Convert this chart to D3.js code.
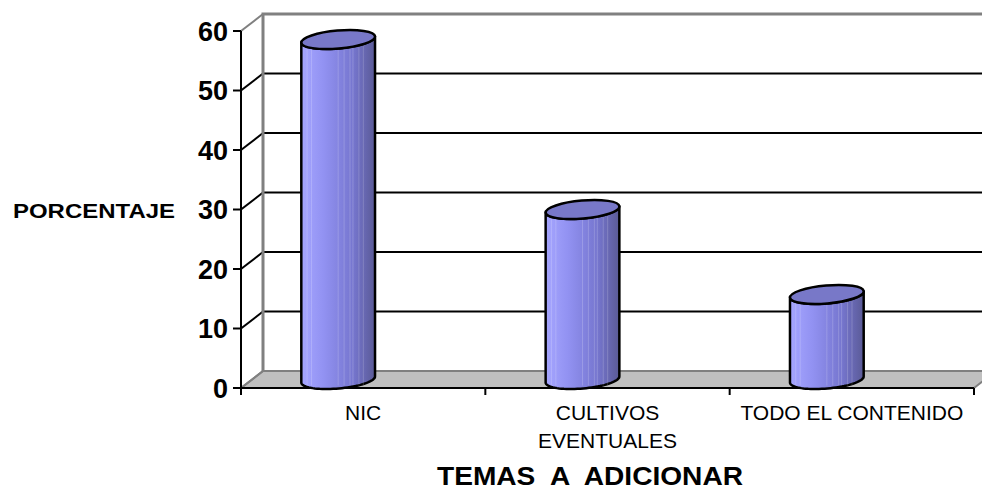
<!DOCTYPE html>
<html>
<head>
<meta charset="utf-8">
<script src="https://cdn.jsdelivr.net/npm/d3@7"></script>
<style>
  body { margin: 0; background: #fff; }
  svg { display: block; font-family: "Liberation Sans", Arial, sans-serif; }
</style>
</head>
<body>
<svg id="chart" width="982" height="491"></svg>
<script>
// data
var categories = ["NIC", "CULTIVOS EVENTUALES", "TODO EL CONTENIDO"];
var categoryLines = [["NIC"], ["CULTIVOS", "EVENTUALES"], ["TODO EL CONTENIDO"]];
var values = [57.14, 28.57, 14.29];
var yTicks = [0, 10, 20, 30, 40, 50, 60];
var yTitle = "PORCENTAJE";
var xTitle = "TEMAS  A  ADICIONAR";

var svg = d3.select("svg#chart");

// plot geometry (front plane) + depth offset for the back wall
var plotL = 241, plotR = 974, plotB = 388, plotT = 31;
var dx = 22, dy = -17;

var x = d3.scaleBand().domain(categories).range([plotL, plotR]);
var y = d3.scaleLinear().domain([0, 60]).range([plotB, plotT]);

var defs = svg.append("defs");
var grad = defs.append("linearGradient").attr("id", "cyl")
   .attr("x1", 0).attr("x2", 1).attr("y1", 0).attr("y2", 0);
[[0, "#a6a6ff"], [0.3, "#9292f2"], [0.7, "#7676cf"], [1, "#5a5a96"]].forEach(function (s) {
   grad.append("stop").attr("offset", s[0]).attr("stop-color", s[1]);
});

var g = svg.append("g");

// floor
g.append("path")
   .attr("d", "M" + plotL + "," + plotB + "L" + (plotL + dx) + "," + (plotB + dy) +
      "L" + (plotR + dx) + "," + (plotB + dy) + "L" + plotR + "," + plotB + "Z")
   .attr("fill", "#c0c0c0").attr("stroke", "#808080").attr("stroke-width", 2);

// back wall gridlines
g.selectAll(".grid").data(yTicks.filter(function (d) { return d > 0 && d < 60; }))
   .enter().append("line")
   .attr("x1", plotL + dx).attr("x2", plotR + dx + 20)
   .attr("y1", function (d) { return y(d) + dy; })
   .attr("y2", function (d) { return y(d) + dy; })
   .attr("stroke", "#000").attr("stroke-width", 2);

// side wall lines
g.selectAll(".side").data(yTicks).enter().append("line")
   .attr("x1", plotL).attr("x2", plotL + dx)
   .attr("y1", function (d) { return y(d); })
   .attr("y2", function (d) { return y(d) + dy; })
   .attr("stroke", function (d) { return d == 0 || d == 60 ? "#808080" : "#000"; })
   .attr("stroke-width", 2);

// back wall frame
g.append("path")
   .attr("d", "M" + (plotL + dx) + "," + (plotB + dy) + "L" + (plotL + dx) + "," + (plotT + dy) +
      "L" + (plotR + dx + 20) + "," + (plotT + dy))
   .attr("fill", "none").attr("stroke", "#808080").attr("stroke-width", 3);

// y axis
g.append("line").attr("x1", plotL).attr("x2", plotL).attr("y1", plotT).attr("y2", plotB)
   .attr("stroke", "#000").attr("stroke-width", 2);
g.selectAll(".ytick").data(yTicks).enter().append("line")
   .attr("x1", plotL - 8).attr("x2", plotL)
   .attr("y1", function (d) { return y(d); }).attr("y2", function (d) { return y(d); })
   .attr("stroke", "#000").attr("stroke-width", 2);
g.selectAll(".ylab").data(yTicks).enter().append("text")
   .attr("x", plotL - 13).attr("y", function (d) { return y(d); })
   .attr("dy", "0.36em").attr("text-anchor", "end")
   .attr("font-size", 27).attr("font-weight", "bold")
   .text(function (d) { return d; });

// x axis
g.append("line").attr("x1", plotL).attr("x2", plotR).attr("y1", plotB).attr("y2", plotB)
   .attr("stroke", "#000").attr("stroke-width", 2);
var bounds = categories.map(function (c) { return x(c); }).concat([plotR]);
g.selectAll(".xtick").data(bounds).enter().append("line")
   .attr("x1", function (d) { return d; }).attr("x2", function (d) { return d; })
   .attr("y1", plotB).attr("y2", plotB + 7)
   .attr("stroke", "#000").attr("stroke-width", 2);

// cylinders
var rx = 37, ry = 9, phi = -5 * Math.PI / 180, shift = -25;
function ellPt(cx, cy, t) {
   return [cx + rx * Math.cos(t) * Math.cos(phi) - ry * Math.sin(t) * Math.sin(phi),
      cy + rx * Math.cos(t) * Math.sin(phi) + ry * Math.sin(t) * Math.cos(phi)];
}
function arc(cx, cy, t0, t1) {
   return d3.range(0, 41).map(function (i) { return ellPt(cx, cy, t0 + (t1 - t0) * i / 40); });
}
function cx(i) { return x(categories[i]) + x.bandwidth() / 2 + shift; }
var line = d3.line();

var cyl = g.selectAll(".cyl").data(values).enter().append("g");
cyl.append("path")
   .attr("d", function (d, i) {
      var cyTop = y(d) + dy / 2, cyBot = y(0) + dy / 2;
      var pts = arc(cx(i), cyTop, Math.PI, Math.PI)
         .concat(arc(cx(i), cyBot, Math.PI, 0))
         .concat(arc(cx(i), cyTop, 0, Math.PI));
      return line(pts) + "Z";
   })
   .attr("fill", "url(#cyl)").attr("stroke", "#000").attr("stroke-width", 2.5)
   .attr("stroke-linejoin", "round");
// faint vertical banding on the cylinder body
var bands = [0.08, 0.14, 0.5, 0.58, 0.66, 0.7, 0.78, 0.84];
cyl.each(function (d, i) {
   d3.select(this).selectAll("line.band").data(bands).enter().append("line")
      .attr("x1", function (b) { return cx(i) - rx + 2 * rx * b; })
      .attr("x2", function (b) { return cx(i) - rx + 2 * rx * b; })
      .attr("y1", y(d) + dy / 2 + 6).attr("y2", y(0) + dy / 2 + 6)
      .attr("stroke", "#fff").attr("stroke-opacity", 0.18).attr("stroke-width", 1);
});
cyl.append("ellipse")
   .attr("cx", function (d, i) { return cx(i); })
   .attr("cy", function (d) { return y(d) + dy / 2; })
   .attr("rx", rx).attr("ry", ry)
   .attr("transform", function (d, i) {
      return "rotate(-5 " + cx(i) + " " + (y(d) + dy / 2) + ")";
   })
   .attr("fill", "#7878c8").attr("stroke", "#000").attr("stroke-width", 2.5);

// category labels
var xl = g.selectAll(".xlab").data(categoryLines).enter().append("text")
   .attr("text-anchor", "middle").attr("font-size", 21)
   .attr("transform", function (d, i) {
      return "translate(" + (x(categories[i]) + x.bandwidth() / 2) + "," + (plotB + 32) + ")";
   });
xl.selectAll("tspan").data(function (d) { return d; }).enter().append("tspan")
   .attr("x", 0).attr("y", function (d, j) { return j * 28; })
   .text(function (d) { return d; });

// axis titles
svg.append("text").attr("x", 13).attr("y", 218)
   .attr("font-size", 21).attr("font-weight", "bold")
   .attr("textLength", 162).attr("lengthAdjust", "spacingAndGlyphs").text(yTitle);
svg.append("text").attr("x", 437).attr("y", 485)
   .attr("font-size", 25).attr("font-weight", "bold")
   .attr("textLength", 306).attr("lengthAdjust", "spacingAndGlyphs")
   .style("white-space", "pre").text(xTitle);
</script>
</body>
</html>
